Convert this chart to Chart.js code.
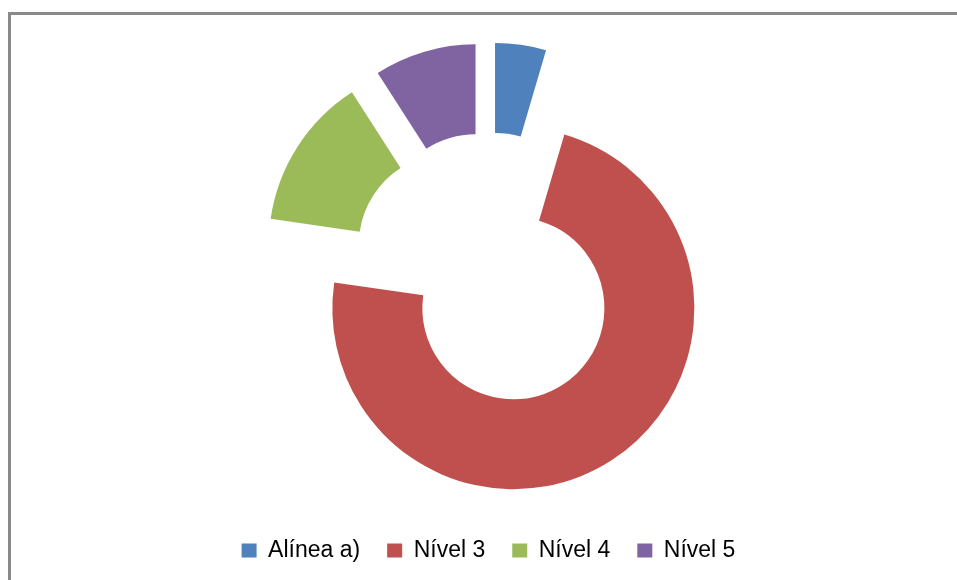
<!DOCTYPE html>
<html>
<head>
<meta charset="utf-8">
<script src="https://cdn.jsdelivr.net/npm/chart.js@4"></script>
<style>
    html, body { margin: 0; padding: 0; background: #fff; overflow: hidden; }
    .wrap { position: relative; width: 957px; height: 580px; }
    .frame { position: absolute; left: 8px; top: 12px; width: 1000px; height: 1000px;
             border-top: 3px solid #8a8a8a; border-left: 3px solid #8a8a8a; }
    canvas { position: absolute; left: 0; top: 0; }
</style>
</head>
<body>
<div class="wrap">
    <div class="frame"></div>
    <canvas id="donut-chart" width="957" height="580"></canvas>
</div>
<script>
    const categories = ['Alínea a)', 'Nível 3', 'Nível 4', 'Nível 5'];
    const counts = [1, 16, 3, 2];
    const colours = ['#4F81BD', '#C0504D', '#9BBB59', '#8064A2'];

    // push every slice out along its middle angle, like an exploded excel doughnut
    const explode = {
        id: 'explode',
        afterDatasetUpdate(chart, args) {
            const dist = 46;
            args.meta.data.forEach(function (arc) {
                const mid = (arc.startAngle + arc.endAngle) / 2;
                arc.x += Math.cos(mid) * dist;
                arc.y += Math.sin(mid) * dist;
            });
        }
    };

    const donutChart = document.getElementById('donut-chart');

    new Chart(donutChart, {
        type: 'doughnut',
        data: {
            labels: categories,
            datasets: [{
                data: counts,
                backgroundColor: colours,
                borderWidth: 0,
                hoverOffset: 0
            }]
        },
        options: {
            responsive: false,
            animation: false,
            events: [],
            radius: 181,
            cutout: '50.3%',
            layout: {
                padding: { left: 20, right: 0, top: 27, bottom: 8 }
            },
            plugins: {
                tooltip: { enabled: false },
                legend: {
                    position: 'bottom',
                    labels: {
                        boxWidth: 15,
                        boxHeight: 14,
                        padding: 27,
                        color: '#000',
                        font: { family: 'Liberation Sans', size: 23 }
                    }
                }
            }
        },
        plugins: [explode]
    });
</script>
</body>
</html>
